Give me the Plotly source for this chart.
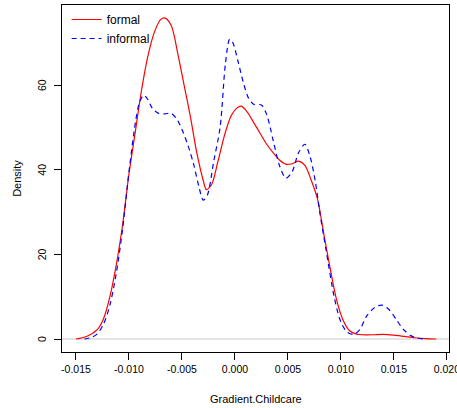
import plotly.graph_objects as go

# Density curves
formal_x = [-0.0150, -0.0140, -0.0130, -0.0124, -0.0118, -0.0112, -0.0106, -0.0100, -0.0094, -0.0088,
            -0.0082, -0.0076, -0.0070, -0.0066, -0.0060, -0.0054, -0.0048, -0.0042, -0.0036, -0.0030,
            -0.0027, -0.0022, -0.0016, -0.0010, -0.0004, 0.0002, 0.0006, 0.0012, 0.0018, 0.0024,
            0.0030, 0.0036, 0.0042, 0.0048, 0.0054, 0.0060, 0.0066, 0.0072, 0.0078, 0.0084,
            0.0090, 0.0096, 0.0102, 0.0108, 0.0114, 0.0120, 0.0130, 0.0140, 0.0150, 0.0160,
            0.0170, 0.0180, 0.0190]
formal_y = [0.0, 0.6, 2.2, 4.8, 10.0, 17.5, 27.0, 39.0, 49.0, 59.0,
            67.0, 72.5, 75.5, 75.8, 74.0, 67.5, 60.0, 52.5, 44.0, 37.5,
            35.3, 36.5, 42.0, 48.0, 52.5, 54.6, 55.0, 53.5, 51.0, 48.5,
            46.0, 44.0, 42.3, 41.3, 41.4, 42.0, 41.0, 37.5, 33.0, 24.6,
            16.5, 9.2, 4.5, 2.0, 1.2, 1.0, 1.0, 1.1, 0.9, 0.6,
            0.3, 0.1, 0.0]

informal_x = [-0.0142, -0.0135, -0.0130, -0.0124, -0.0118, -0.0112, -0.0106, -0.0100, -0.0094, -0.0090,
              -0.0086, -0.0082, -0.0078, -0.0072, -0.0066, -0.0060, -0.0055, -0.0050, -0.0044, -0.0039,
              -0.0034, -0.0030, -0.0026, -0.0020, -0.0014, -0.0009, -0.0005, -0.0002, 0.0003, 0.0008,
              0.0013, 0.0018, 0.0025, 0.0030, 0.0036, 0.0042, 0.0048, 0.0054, 0.0060, 0.0066,
              0.0071, 0.0076, 0.0080, 0.0086, 0.0094, 0.0100, 0.0106, 0.0112, 0.0118, 0.0124,
              0.0132, 0.0139, 0.0146, 0.0153, 0.0160, 0.0166, 0.0172, 0.0178]
informal_y = [0.0, 0.4, 1.2, 3.5, 8.0, 15.5, 26.0, 39.5, 51.0, 56.0,
              57.6, 56.5, 54.5, 53.3, 53.2, 53.3, 52.0, 49.5, 45.5, 41.3,
              36.0, 32.8, 34.0, 42.0, 50.0, 65.0, 70.8, 70.0, 65.5, 60.5,
              56.8, 55.4, 55.3, 53.0, 47.0, 41.0, 38.0, 39.5, 44.0, 46.0,
              43.0, 37.0, 30.0, 21.0, 9.5, 4.0, 1.6, 1.1, 2.3, 5.3,
              7.5, 8.0, 6.8, 4.3, 2.0, 0.8, 0.2, 0.0]

x_ticks = [-0.015, -0.010, -0.005, 0.000, 0.005, 0.010, 0.015, 0.020]
x_tick_labels = ["-0.015", "-0.010", "-0.005", "0.000", "0.005", "0.010", "0.015", "0.020"]
y_ticks = [0, 20, 40, 60]
y_tick_labels = ["0", "20", "40", "60"]

font = "Liberation Sans, Arial, sans-serif"

fig = go.Figure()
fig.add_trace(go.Scatter(x=formal_x, y=formal_y, mode="lines", name="formal",
                         line=dict(color="#ff0000", width=1.2, shape="spline", smoothing=0.8)))
fig.add_trace(go.Scatter(x=informal_x, y=informal_y, mode="lines", name="informal",
                         line=dict(color="#0000ff", width=1.2, dash="5px,4px", shape="spline", smoothing=0.8)))

fig.add_shape(type="line", xref="paper", yref="y", x0=0, x1=1, y0=0, y1=0,
              line=dict(color="#c8c8c8", width=1), layer="below")

annotations = [
    dict(text="Gradient.Childcare", xref="paper", yref="paper", x=0.5, y=-0.135,
         xanchor="center", yanchor="middle", showarrow=False, font=dict(size=11)),
    dict(text="Density", xref="paper", yref="paper", x=-0.118, y=0.5, textangle=-90,
         xanchor="center", yanchor="middle", showarrow=False, font=dict(size=11)),
]
for v, lab in zip(y_ticks, y_tick_labels):
    annotations.append(dict(text=lab, xref="paper", yref="y", x=-0.0517, y=v, textangle=-90,
                            xanchor="center", yanchor="middle", showarrow=False,
                            font=dict(size=10.5)))

fig.update_layout(
    width=457, height=408,
    margin=dict(l=62, r=8, t=5, b=56, autoexpand=False),
    paper_bgcolor="white", plot_bgcolor="white",
    font=dict(family=font, color="black", size=11),
    showlegend=True,
    legend=dict(x=0.012, y=1.0, xanchor="left", yanchor="top", bgcolor="rgba(0,0,0,0)",
                font=dict(size=12), tracegroupgap=0),
    xaxis=dict(range=[-0.01632, 0.0202], tickvals=x_ticks, ticktext=x_tick_labels,
               ticks="outside", ticklen=7, tickcolor="black", showline=True, mirror=True,
               linecolor="black", linewidth=1, showgrid=False, zeroline=False,
               tickfont=dict(size=10.5), ticklabeloverflow="allow", automargin=False),
    yaxis=dict(range=[-3.07, 78.9], tickvals=y_ticks, ticktext=y_tick_labels,
               ticks="outside", ticklen=7, tickcolor="black", showline=True, mirror=True,
               linecolor="black", linewidth=1, showgrid=False, zeroline=False,
               showticklabels=False, automargin=False),
    annotations=annotations,
)

fig.write_html("out.html")
